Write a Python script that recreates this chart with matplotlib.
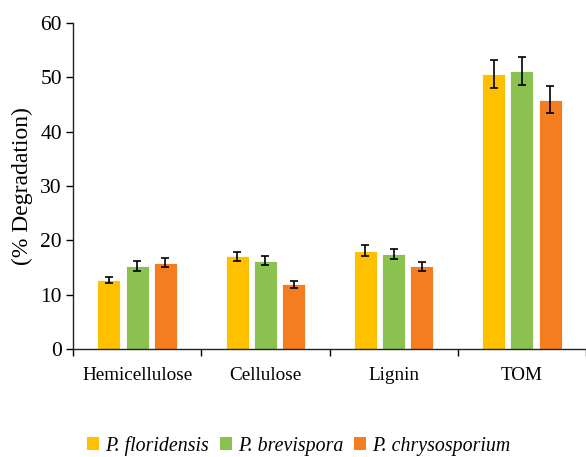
import matplotlib
matplotlib.use("Agg")
import matplotlib.pyplot as plt
import numpy as np

plt.rcParams['font.family'] = ['Liberation Serif', 'DejaVu Serif']

# === data ===
categories = ["Hemicellulose", "Cellulose", "Lignin", "TOM"]
species = ["P. floridensis", "P. brevispora", "P. chrysosporium"]
floridensis = [12.7, 17.1, 18.1, 50.6]
brevispora = [15.3, 16.3, 17.5, 51.1]
chrysosporium = [15.9, 11.9, 15.2, 45.9]
floridensis_err = [0.6, 0.8, 1.0, 2.6]
brevispora_err = [0.9, 0.8, 0.9, 2.6]
chrysosporium_err = [0.8, 0.6, 0.8, 2.4]

colors = ["#FFC000", "#8BC14E", "#F47D20"]
series = [floridensis, brevispora, chrysosporium]
errors = [floridensis_err, brevispora_err, chrysosporium_err]

fig = plt.figure(figsize=(5.86, 4.57), dpi=100)
ax = fig.add_axes([0.1246, 0.236, 0.8754, 0.714])

x = np.arange(len(categories)) + 0.5
offsets = [-0.22, 0.0, 0.22]
for vals, errs, col, off, name in zip(series, errors, colors, offsets, species):
    ax.bar(x + off, vals, width=0.18, color=col, edgecolor="white", linewidth=0.6,
           yerr=errs, capsize=3, error_kw=dict(ecolor="black", elinewidth=1.2, capthick=1.2),
           label=name, zorder=2)

ax.set_xlim(0, 3.946)
ax.set_ylim(0, 60)
ax.set_yticks(np.arange(0, 61, 10))

# boundary ticks on major, labels centred on minor
ax.set_xticks(np.arange(0, 5))
ax.set_xticklabels([])
ax.set_xticks(x, minor=True)
ax.set_xticklabels(categories, minor=True, fontsize=13.8)
ax.tick_params(axis="x", which="minor", length=0, pad=13)
ax.tick_params(axis="x", which="major", length=5, width=1, direction="out")
ax.tick_params(axis="y", length=5, width=1, labelsize=15.5, pad=3)

for s in ["top", "right"]:
    ax.spines[s].set_visible(False)
for s in ["left", "bottom"]:
    ax.spines[s].set_linewidth(1.0)
    ax.spines[s].set_color("#222222")

ax.set_ylabel("(% Degradation)", fontsize=17)
ax.yaxis.set_label_coords(-0.078, 0.5)

leg = fig.legend(loc="center", bbox_to_anchor=(0.51, 0.025), ncol=3, frameon=False,
                 prop=dict(family="Liberation Serif", style="italic", size=14.3),
                 handlelength=0.6, handleheight=0.6, handletextpad=0.3, columnspacing=0.55,
                 borderpad=0)
for h in leg.legend_handles:
    h.set_edgecolor("none")

fig.savefig("out.png", dpi=100)
